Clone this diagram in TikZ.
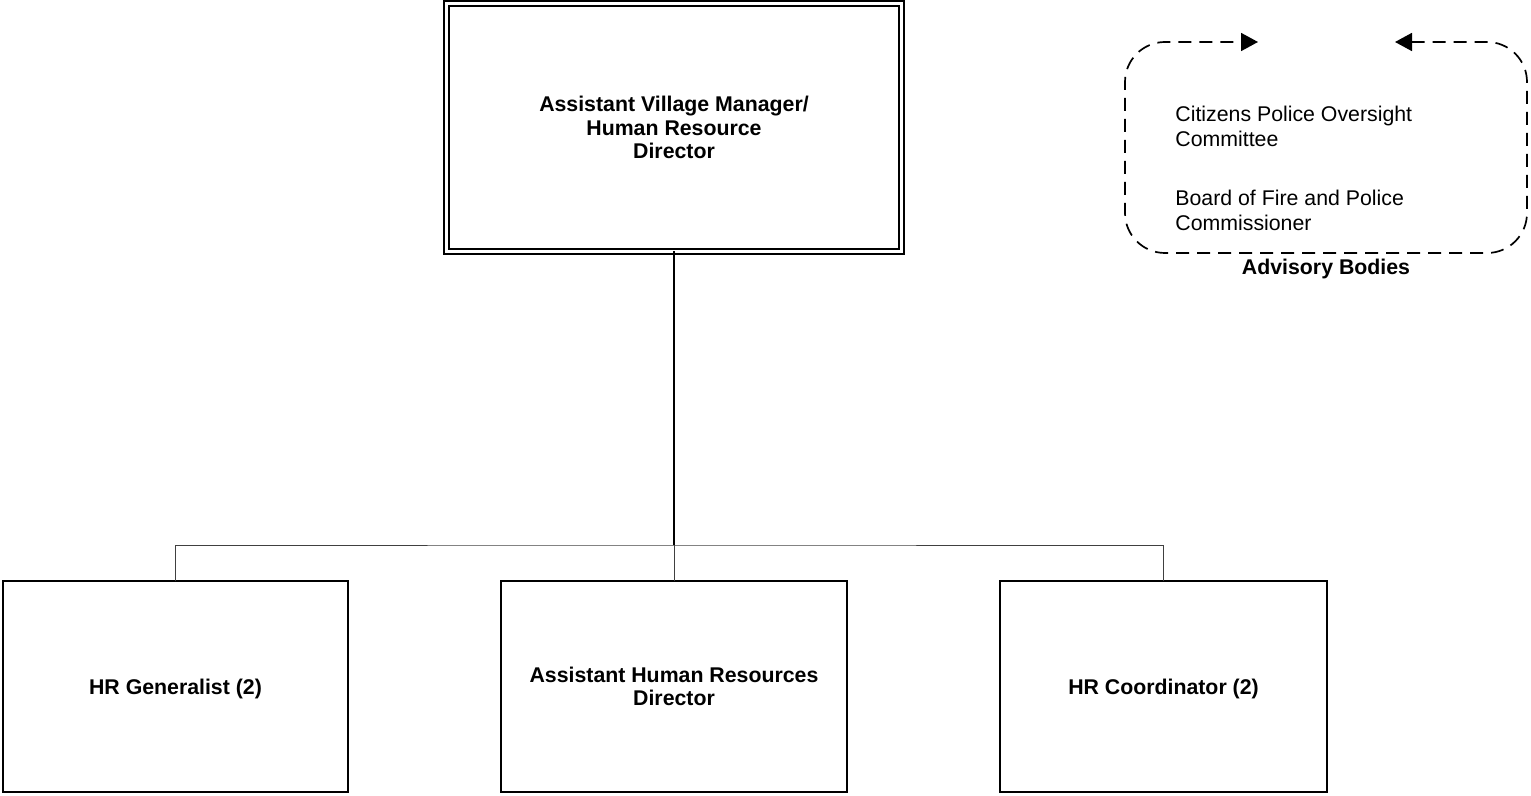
\documentclass[tikz,border=0pt]{standalone}
\usepackage{fontspec}
\setmainfont{Liberation Sans}
\usetikzlibrary{arrows.meta}
\tikzset{
  posbox/.style={draw, line width=0.9pt, inner sep=2pt, outer sep=0pt, align=center,
    font=\fontsize{10.65pt}{11.7pt}\selectfont\bfseries, minimum height=105.5pt},
  topbox/.style={draw, double, line width=0.9pt, double distance=1.9pt, outer sep=0pt, align=center,
    font=\fontsize{10.65pt}{11.7pt}\selectfont\bfseries, minimum width=227.5pt, minimum height=124pt},
  mainline/.style={line width=0.8pt, black},
  busline/.style={line width=0.5pt, black!75},
  advline/.style={line width=0.85pt, dash pattern=on 6.5pt off 4pt, rounded corners=20pt},
  advtext/.style={align=left, inner sep=0pt, font=\fontsize{10.65pt}{12.5pt}\selectfont},
}
\begin{document}
\begin{tikzpicture}[x=0.5pt,y=-0.5pt]
\useasboundingbox (0,0) rectangle (1531,796);
\node[topbox] (top) at (674,127.5) {Assistant Village Manager/\\Human Resource\\Director};
\node[posbox, minimum width=172.5pt, text depth=0pt] (gen) at (175.5,686.5) {HR Generalist (2)};
\node[posbox, minimum width=173pt] (ahr) at (674,686.5) {Assistant Human Resources\\Director};
\node[posbox, minimum width=163.5pt, text depth=0pt] (coord) at (1163.5,686.5) {HR Coordinator (2)};
\coordinate (bus) at (674,545);
\draw[mainline] (top.south) -- (bus);
\draw[busline] (gen.north) |- (bus) -| (coord.north);
\draw[busline] (bus) -- (ahr.north);
% advisory bodies
\coordinate (gapr) at (1395,42);
\coordinate (gapl) at (1258,42);
\draw[advline, {Triangle[length=8.5pt,width=9pt]}-{Triangle[length=8.5pt,width=9pt]}]
  (gapr) -- (1527,42) -- (1527,253) -- (1125,253) -- (1125,42) -- (gapl);
\node[advtext, anchor=west] (cpoc) at (1175,126) {Citizens Police Oversight\\Committee};
\node[advtext, anchor=west] (bfpc) at (1175,210) {Board of Fire and Police\\Commissioner};
\node[font=\fontsize{10.65pt}{12pt}\selectfont\bfseries, inner sep=0pt] (adv) at (1326,269) {Advisory Bodies};
\end{tikzpicture}
\end{document}
